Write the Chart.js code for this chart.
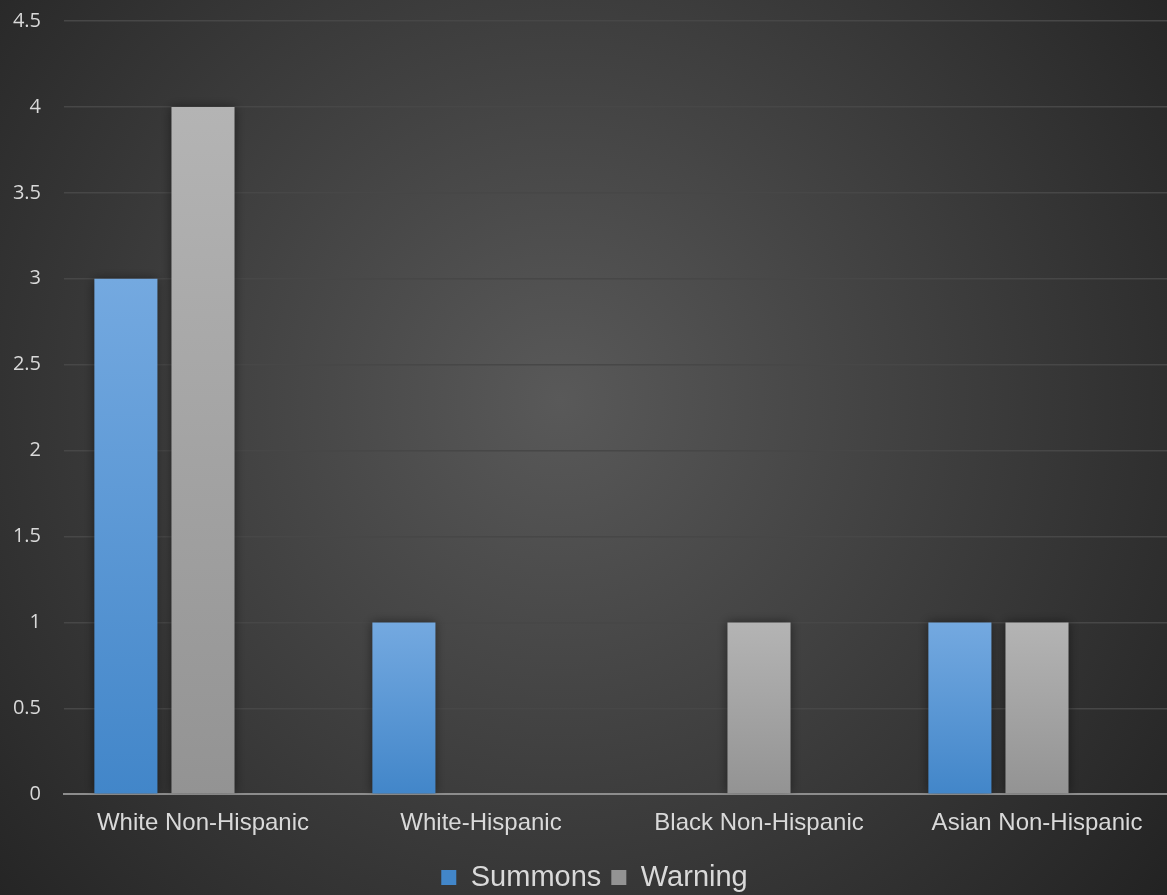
<!DOCTYPE html>
<html>
<head>
<meta charset="utf-8">
<script src="https://cdn.jsdelivr.net/npm/chart.js@4.4.1/dist/chart.umd.min.js"></script>
<style>
  html, body { margin: 0; padding: 0; overflow: hidden; background: #262626; }
  #wrap { width: 1176px; height: 895px; position: relative; }
</style>
</head>
<body>
<div id="wrap"><canvas id="c"></canvas></div>
<script>
const categories = ['White Non-Hispanic', 'White-Hispanic', 'Black Non-Hispanic', 'Asian Non-Hispanic']
const summons = [3, 1, null, 1]
const warning = [4, null, 1, 1]
// third series in the source has no values but still takes a slot in each group
const emptySeries = [null, null, null, null]
const yTicks = [0, 0.5, 1, 1.5, 2, 2.5, 3, 3.5, 4, 4.5]

function barGradient(c, top, bottom) {
  const chart = c.chart
  const y = chart.scales && chart.scales.y
  if (!y || c.raw == null || c.dataIndex == null) return top
  const y0 = y.getPixelForValue(c.raw)
  const y1 = y.getPixelForValue(0)
  if (!isFinite(y0) || !isFinite(y1) || y0 === y1) return top
  const g = chart.ctx.createLinearGradient(0, y0, 0, y1)
  g.addColorStop(0, top)
  g.addColorStop(1, bottom)
  return g
}

const bgPlugin = {
  id: 'bg',
  beforeDraw(chart) {
    const ctx = chart.ctx
    const w = chart.width, h = chart.height
    const g = ctx.createRadialGradient(560, 400, 0, 560, 400, 820)
    g.addColorStop(0, '#595959')
    g.addColorStop(1, '#202020')
    ctx.save()
    ctx.fillStyle = g
    ctx.fillRect(0, 0, w, h)
    ctx.restore()
  }
}

const shadowPlugin = {
  id: 'barShadow',
  beforeDatasetsDraw(chart) {
    const ctx = chart.ctx
    ctx.save()
    ctx.shadowColor = 'rgba(0,0,0,0.45)'
    ctx.shadowBlur = 10
  },
  afterDatasetsDraw(chart) {
    chart.ctx.restore()
  }
}

const chart = new Chart(document.getElementById('c'), {
  type: 'bar',
  data: {
    labels: categories,
    datasets: [
      { label: 'Summons', data: summons,
        backgroundColor: c => barGradient(c, '#74a9e0', '#4286c9') },
      { label: 'Warning', data: warning,
        backgroundColor: c => barGradient(c, '#b4b4b4', '#939393') },
      { label: '', data: emptySeries, backgroundColor: '#888888' }
    ]
  },
  plugins: [bgPlugin, shadowPlugin],
  options: {
    responsive: true,
    maintainAspectRatio: false,
    animation: false,
    categoryPercentage: 0.832,
    barPercentage: 0.818,
    layout: { padding: { left: 13, top: 21, right: 0, bottom: -7 } },
    plugins: {
      legend: {
        position: 'bottom',
        labels: {
          color: '#d9d9d9',
          font: { family: 'Liberation Sans, Arial, sans-serif', size: 29 },
          boxWidth: 15,
          boxHeight: 15,
          padding: 10,
          filter: item => item.text !== ''
        }
      },
      tooltip: { enabled: false }
    },
    scales: {
      x: {
        grid: { display: false, drawTicks: false },
        border: { color: '#8d8d8d', width: 2 },
        ticks: {
          color: '#d9d9d9',
          font: { family: 'Liberation Sans, Arial, sans-serif', size: 24 },
          padding: 15,
          maxRotation: 0
        }
      },
      y: {
        min: 0,
        max: 4.5,
        afterBuildTicks: axis => { axis.ticks = yTicks.map(v => ({ value: v })) },
        afterFit: axis => {
          axis.width = 51
          axis.paddingTop = 0
          axis.paddingBottom = 0
        },
        grid: { color: '#474747', lineWidth: 1.5, drawTicks: false },
        border: { display: false },
        ticks: {
          color: '#d9d9d9',
          font: { family: 'Open Sans, sans-serif', size: 20 },
          padding: 23,
          callback: v => String(v)
        }
      }
    }
  }
})
</script>
</body>
</html>
